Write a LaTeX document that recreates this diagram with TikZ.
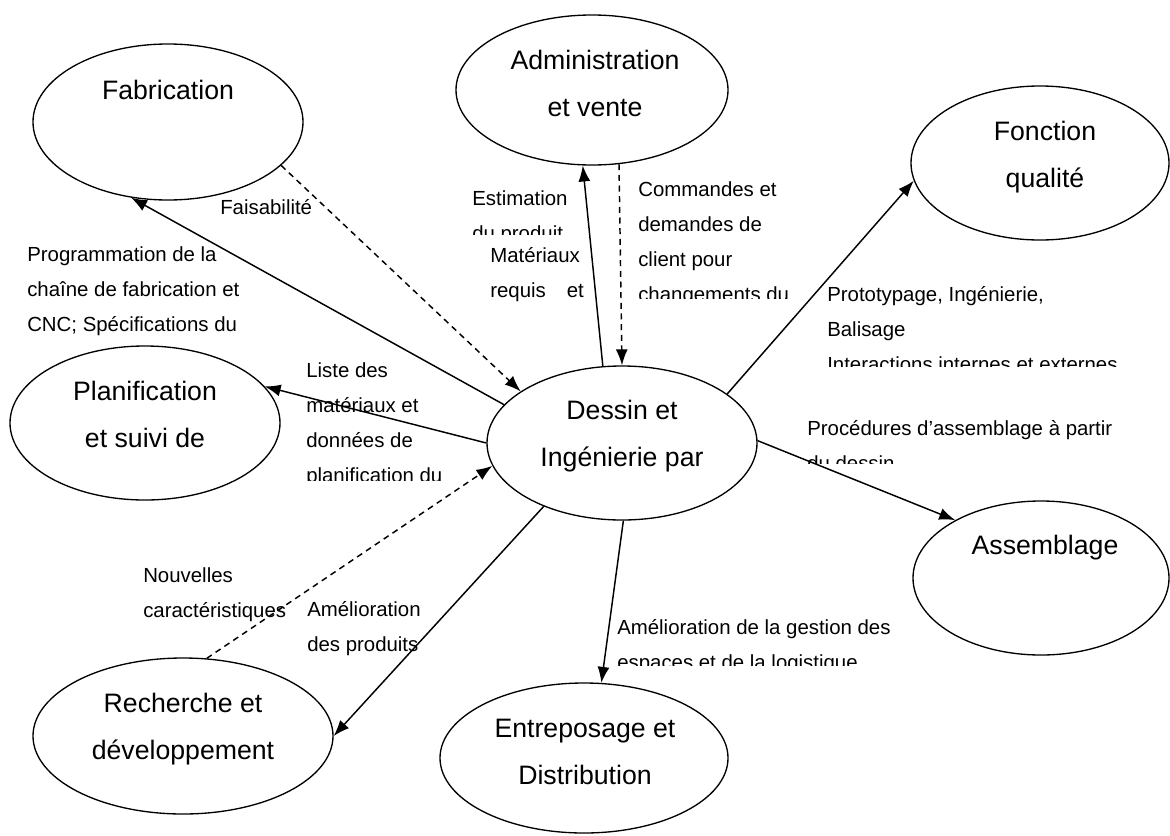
\documentclass[tikz,border=0pt]{standalone}
\usepackage{fontspec}
\setmainfont{Liberation Sans}
\usetikzlibrary{shapes.geometric,arrows.meta}

\begin{document}
\begin{tikzpicture}[x=0.75pt,y=-0.75pt]

      \tikzset{bubble/.style={draw, ellipse, line width=1pt, inner sep=0pt},
               title/.style={font=\fontsize{20}{35.25}\selectfont, align=center, anchor=base, inner sep=0pt},
               note/.style={font=\fontsize{15.3}{26.25}\selectfont, align=left, anchor=base west, inner sep=0pt},
               flow/.style={-{Latex[length=12pt,width=9pt]}, line width=1.1pt},
               hint/.style={flow, dash pattern=on 4.5pt off 3.5pt}}
      \useasboundingbox (0,0) rectangle (1170,835);

%% Ellipses
      \node[bubble, minimum width=202.5pt, minimum height=117pt] (fab) at (168,122) {};
      \node[bubble, minimum width=204pt, minimum height=112.5pt] (admin) at (592,90) {};
      \node[bubble, minimum width=193.5pt, minimum height=115.5pt] (fonction) at (1040,163) {};
      \node[bubble, minimum width=202.5pt, minimum height=115.5pt] (planif) at (145,423) {};
      \node[bubble, minimum width=202.5pt, minimum height=115.5pt] (dessin) at (622,443) {};
      \node[bubble, minimum width=192pt, minimum height=115.5pt] (assem) at (1041,578) {};
      \node[bubble, minimum width=225pt, minimum height=117pt] (rech) at (183,736) {};
      \node[bubble, minimum width=216pt, minimum height=112.5pt] (entre) at (584,758) {};

%% Ellipse texts (base = last line)
      \node[title] (fab-t) at (168,99) {Fabrication};
      \node[title] (admin-t) at (595,116) {Administration\\et vente};
      \node[title] (fonction-t) at (1045,187) {Fonction\\qualité};
      \node[title] (planif-t) at (145,447) {Planification\\et suivi de};
      \begin{scope}
        \clip (480,380) rectangle (760,492);
        \node[title] (dessin-t) at (622,513) {Dessin et\\Ingénierie par\\ordinateur};
      \end{scope}
      \node[title] (assem-t) at (1045,554) {Assemblage};
      \node[title] (rech-t) at (183,759) {Recherche et\\développement};
      \node[title] (entre-t) at (585,784) {Entreposage et\\Distribution};

%Labels
      \node[note] (faisab) at (220,214) {Faisabilité};
      \node[note] (prog) at (27,331) {Programmation de la\\chaîne de fabrication et\\CNC; Spécifications du};
      \begin{scope}
        \clip (465,170) rectangle (570,234);
        \node[note] (estim) at (472,240) {Estimation\\du produit};
      \end{scope}
      \node[note] (mater) at (490,297) {Matériaux\\requis\hspace{11.5pt} et};
      \begin{scope}
        \clip (630,160) rectangle (800,298);
        \node[note] (comm) at (638,301) {Commandes et\\demandes de\\client pour\\changements du};
      \end{scope}
      \begin{scope}
        \clip (820,270) rectangle (1165,366);
        \node[note] (proto) at (827,371) {Prototypage, Ingénierie,\\Balisage\\Interactions internes et externes};
      \end{scope}
      \begin{scope}
        \clip (800,400) rectangle (1165,463);
        \node[note] (proced) at (807,470) {Procédures d’assemblage à partir\\du dessin};
      \end{scope}
      \begin{scope}
        \clip (300,345) rectangle (480,480);
        \node[note] (liste) at (306,482) {Liste des\\matériaux et\\données de\\planification du};
      \end{scope}
      \node[note] (nouv) at (143,617) {Nouvelles\\caractéristiques};
      \node[note] (amelio) at (307,651) {Amélioration\\des produits};
      \begin{scope}
        \clip (610,605) rectangle (920,665);
        \node[note] (gestion) at (617,669) {Amélioration de la gestion des\\espaces et de la logistique};
      \end{scope}

%Edges
      \draw[flow] (dessin.162) -- (fab.244);
      \draw[hint] (fab.339) -- (dessin.153);
      \draw[flow] (dessin.104) -- (admin.263);
      \draw[hint] (admin.290) -- (dessin.north);
      \draw[flow] (dessin.25) -- (fonction.188);
      \draw[flow] (dessin.west) -- (planif.17);
      \draw[flow] (dessin.1) -- (assem.146);
      \draw[hint] (rech.73) -- (dessin.190);
      \draw[flow] (dessin.219) -- (rech.east);
      \draw[flow] (dessin.271) -- (entre.77);

\end{tikzpicture}
\end{document}
